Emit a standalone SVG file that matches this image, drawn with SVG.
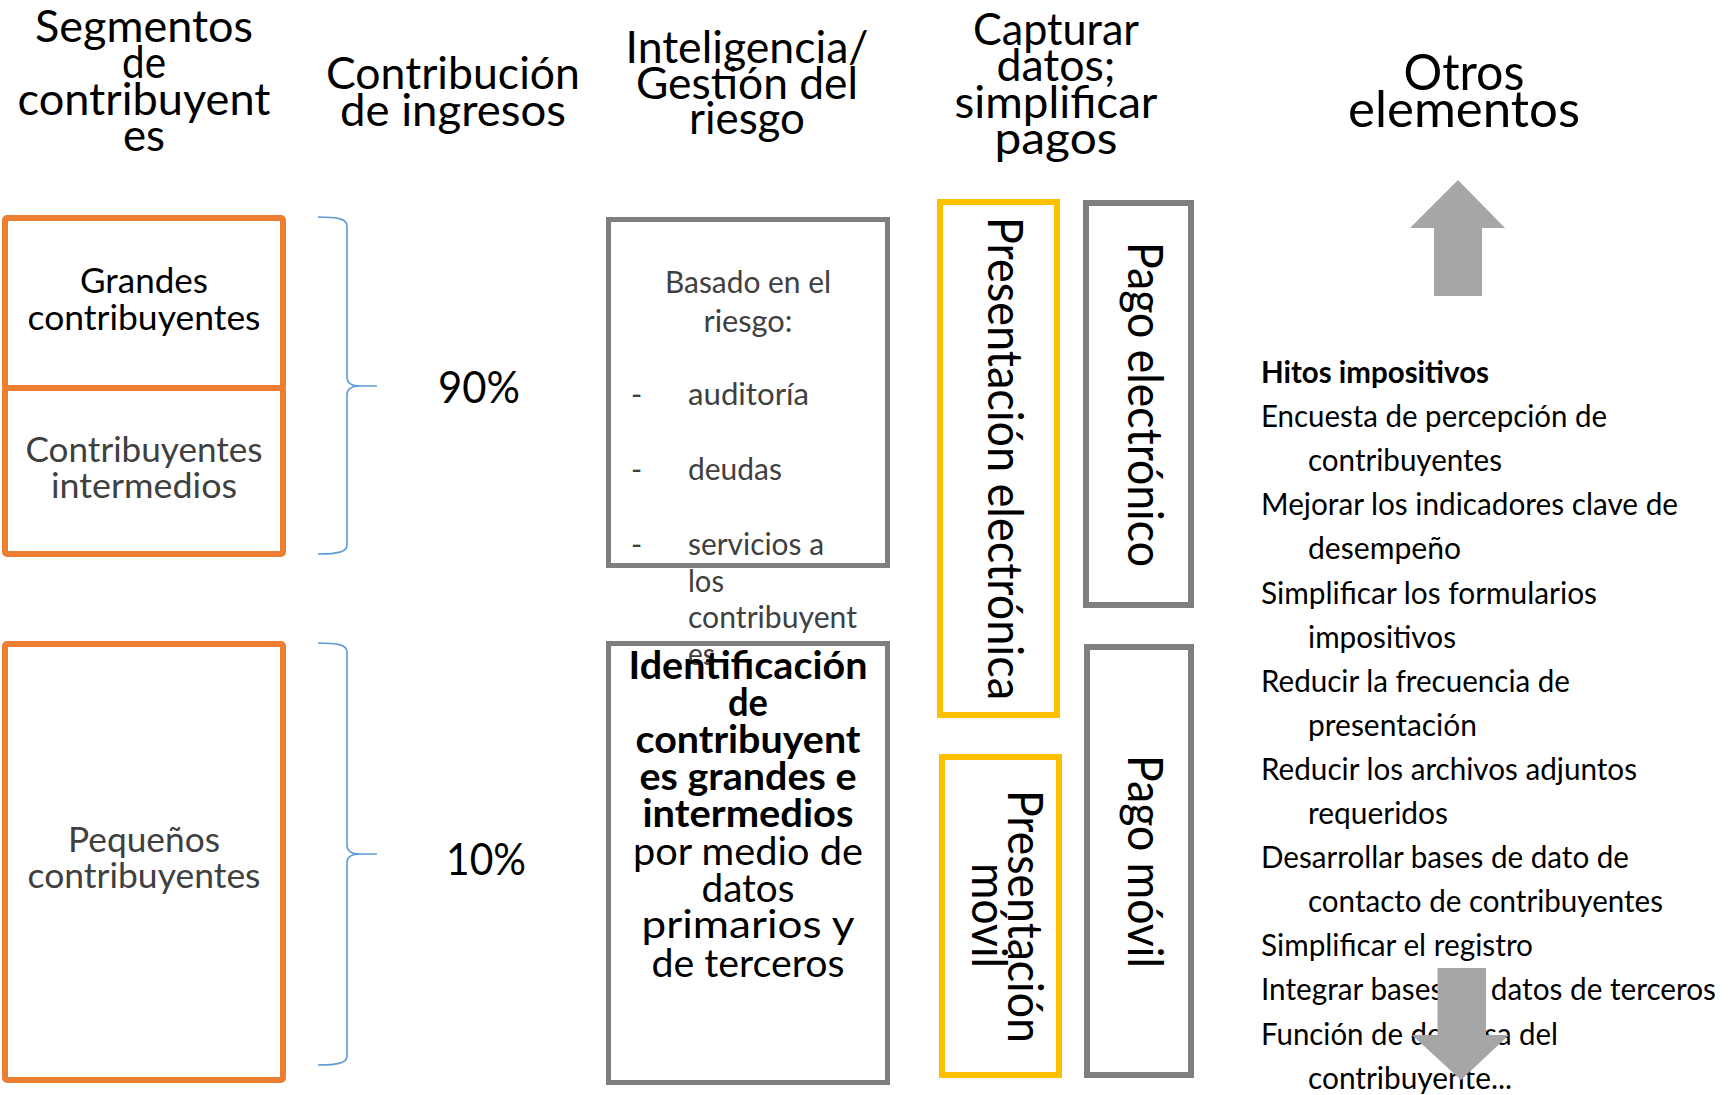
<svg xmlns="http://www.w3.org/2000/svg" width="1732" height="1095" viewBox="0 0 1732 1095">
<style>
text{font-family:Lato,"Open Sans","Liberation Sans",sans-serif;}
.hd{font-size:44px;fill:#000;text-anchor:middle;}
.hd2{font-size:50px;fill:#000;text-anchor:middle;}
.seg{font-size:35px;text-anchor:middle;}
.pct{font-size:45px;fill:#000;text-anchor:middle;}
.bas{font-size:30px;fill:#404040;}
.idt{font-size:39px;fill:#000;text-anchor:middle;}
.rot{font-size:48px;fill:#000;text-anchor:middle;}
.lst{font-size:30px;fill:#000;}
.orange{fill:#fff;stroke:#ED7D31;stroke-width:6;}
.grey{fill:#fff;stroke:#7F7F7F;stroke-width:5;}
.greyv{fill:#fff;stroke:#7F7F7F;stroke-width:6;}
.yellow{fill:#fff;stroke:#FFC000;stroke-width:6;}
.brace{fill:none;stroke:#5B9BD5;stroke-width:1.6;}
.arrow{fill:#A6A6A6;}
</style>
<rect width="1732" height="1095" fill="#fff"/>

<g id="headers">
<text class="hd" x="144" y="42" textLength="218" lengthAdjust="spacingAndGlyphs">Segmentos</text>
<text class="hd" x="144" y="78" textLength="44" lengthAdjust="spacingAndGlyphs">de</text>
<text class="hd" x="144" y="115" textLength="253" lengthAdjust="spacingAndGlyphs">contribuyent</text>
<text class="hd" x="144" y="151" textLength="42" lengthAdjust="spacingAndGlyphs">es</text>
<text class="hd" x="453" y="89" textLength="254" lengthAdjust="spacingAndGlyphs">Contribución</text>
<text class="hd" x="453" y="126" textLength="226" lengthAdjust="spacingAndGlyphs">de ingresos</text>
<text class="hd" x="747" y="63" textLength="243" lengthAdjust="spacingAndGlyphs">Inteligencia/</text>
<text class="hd" x="747" y="99" textLength="222" lengthAdjust="spacingAndGlyphs">Gestión del</text>
<text class="hd" x="747" y="134" textLength="116" lengthAdjust="spacingAndGlyphs">riesgo</text>
<text class="hd" x="1056" y="45" textLength="166" lengthAdjust="spacingAndGlyphs">Capturar</text>
<text class="hd" x="1056" y="81" textLength="119" lengthAdjust="spacingAndGlyphs">datos;</text>
<text class="hd" x="1056" y="118" textLength="203" lengthAdjust="spacingAndGlyphs">simplificar</text>
<text class="hd" x="1056" y="154" textLength="123" lengthAdjust="spacingAndGlyphs">pagos</text>
<text class="hd2" x="1464" y="90" textLength="121" lengthAdjust="spacingAndGlyphs">Otros</text>
<text class="hd2" x="1464" y="127" textLength="232" lengthAdjust="spacingAndGlyphs">elementos</text>
</g>

<g id="node-grandes">
<rect class="orange" x="5" y="218" width="278" height="170" rx="2"/>
<text class="seg" x="144" y="293" fill="#000" textLength="128" lengthAdjust="spacingAndGlyphs">Grandes</text>
<text class="seg" x="144" y="330" fill="#000" textLength="233" lengthAdjust="spacingAndGlyphs">contribuyentes</text>
</g>
<g id="node-intermedios">
<rect class="orange" x="5" y="388" width="278" height="166" rx="2"/>
<text class="seg" x="144" y="462" fill="#404040" textLength="237" lengthAdjust="spacingAndGlyphs">Contribuyentes</text>
<text class="seg" x="144" y="498" fill="#404040" textLength="186" lengthAdjust="spacingAndGlyphs">intermedios</text>
</g>
<g id="node-pequenos">
<rect class="orange" x="5" y="644" width="278" height="436" rx="2"/>
<text class="seg" x="144" y="852" fill="#404040" textLength="152" lengthAdjust="spacingAndGlyphs">Pequeños</text>
<text class="seg" x="144" y="888" fill="#404040" textLength="233" lengthAdjust="spacingAndGlyphs">contribuyentes</text>
</g>

<g id="connectors">
<path class="brace" d="M318,217 C338,217 347,219 347,226 L347,377 C347,383 351,386 360,386 L377,386 M360,386 C351,386 347,389 347,395 L347,545 C347,552 338,554 318,554"/>
<path class="brace" d="M318,643 C338,643 347,645 347,652 L347,845 C347,851 351,854 360,854 L377,854 M360,854 C351,854 347,857 347,863 L347,1056 C347,1063 338,1065 318,1065"/>
</g>

<g id="node-90">
<text class="pct" x="479" y="403" textLength="82" lengthAdjust="spacingAndGlyphs">90%</text>
</g>
<g id="node-10">
<text class="pct" x="486" y="875" textLength="80" lengthAdjust="spacingAndGlyphs">10%</text>
</g>

<g id="node-basado">
<rect class="grey" x="608.5" y="219.5" width="279" height="346"/>
<text class="bas" x="748" y="293" text-anchor="middle" textLength="166" lengthAdjust="spacingAndGlyphs">Basado en el</text>
<text class="bas" x="748" y="332" text-anchor="middle" textLength="89" lengthAdjust="spacingAndGlyphs">riesgo:</text>
<text class="bas" x="631" y="405">-</text>
<text class="bas" x="688" y="405" textLength="121" lengthAdjust="spacingAndGlyphs">auditoría</text>
<text class="bas" x="631" y="480">-</text>
<text class="bas" x="688" y="480" textLength="94" lengthAdjust="spacingAndGlyphs">deudas</text>
<text class="bas" x="631" y="555">-</text>
<text class="bas" x="688" y="555" textLength="136" lengthAdjust="spacingAndGlyphs">servicios a</text>
<text class="bas" x="688" y="592" textLength="36" lengthAdjust="spacingAndGlyphs">los</text>
<text class="bas" x="688" y="628" textLength="169" lengthAdjust="spacingAndGlyphs">contribuyent</text>
</g>

<g id="node-identificacion">
<rect class="grey" x="608.5" y="643.5" width="279" height="439"/>
<text class="bas" x="688" y="665" textLength="27" lengthAdjust="spacingAndGlyphs">es</text>
<text class="idt" x="748" y="679" font-weight="bold" textLength="239" lengthAdjust="spacingAndGlyphs">Identificación</text>
<text class="idt" x="748" y="716" font-weight="bold" textLength="40" lengthAdjust="spacingAndGlyphs">de</text>
<text class="idt" x="748" y="753" font-weight="bold" textLength="225" lengthAdjust="spacingAndGlyphs">contribuyent</text>
<text class="idt" x="748" y="790" font-weight="bold" textLength="217" lengthAdjust="spacingAndGlyphs">es grandes e</text>
<text class="idt" x="748" y="827" font-weight="bold" textLength="211" lengthAdjust="spacingAndGlyphs">intermedios</text>
<text class="idt" x="748" y="865" textLength="230" lengthAdjust="spacingAndGlyphs">por medio de</text>
<text class="idt" x="748" y="902" textLength="93" lengthAdjust="spacingAndGlyphs">datos</text>
<text class="idt" x="748" y="938" textLength="213" lengthAdjust="spacingAndGlyphs">primarios y</text>
<text class="idt" x="748" y="977" textLength="193" lengthAdjust="spacingAndGlyphs">de terceros</text>
</g>

<g id="node-presentacion-electronica">
<rect class="yellow" x="940" y="202" width="117" height="513"/>
<text class="rot" transform="translate(988,458.5) rotate(90)" x="0" y="0" textLength="483" lengthAdjust="spacingAndGlyphs">Presentación electrónica</text>
</g>
<g id="node-presentacion-movil">
<rect class="yellow" x="942" y="757" width="117" height="318"/>
<text class="rot" transform="translate(1008,916.5) rotate(90)" x="0" y="0" textLength="253" lengthAdjust="spacingAndGlyphs">Presentación</text>
<text class="rot" transform="translate(972,915.5) rotate(90)" x="0" y="0" textLength="105" lengthAdjust="spacingAndGlyphs">móvil</text>
</g>
<g id="node-pago-electronico">
<rect class="greyv" x="1086" y="203" width="105" height="402"/>
<text class="rot" transform="translate(1128,404.5) rotate(90)" x="0" y="0" textLength="325" lengthAdjust="spacingAndGlyphs">Pago electrónico</text>
</g>
<g id="node-pago-movil">
<rect class="greyv" x="1087" y="647" width="104" height="428"/>
<text class="rot" transform="translate(1128,861.5) rotate(90)" x="0" y="0" textLength="213" lengthAdjust="spacingAndGlyphs">Pago móvil</text>
</g>

<g id="node-otros">
<polygon class="arrow" points="1458,180 1505,228 1482,228 1482,296 1434,296 1434,228 1410,228"/>
<text class="lst" x="1261" y="383" font-weight="bold" textLength="228" lengthAdjust="spacingAndGlyphs">Hitos impositivos</text>
<text class="lst" x="1261" y="427.1" textLength="346" lengthAdjust="spacingAndGlyphs">Encuesta de percepción de</text>
<text class="lst" x="1308" y="471.2" textLength="194" lengthAdjust="spacingAndGlyphs">contribuyentes</text>
<text class="lst" x="1261" y="515.3" textLength="417" lengthAdjust="spacingAndGlyphs">Mejorar los indicadores clave de</text>
<text class="lst" x="1308" y="559.4" textLength="153" lengthAdjust="spacingAndGlyphs">desempeño</text>
<text class="lst" x="1261" y="603.5" textLength="336" lengthAdjust="spacingAndGlyphs">Simplificar los formularios</text>
<text class="lst" x="1308" y="647.6" textLength="148" lengthAdjust="spacingAndGlyphs">impositivos</text>
<text class="lst" x="1261" y="691.7" textLength="309" lengthAdjust="spacingAndGlyphs">Reducir la frecuencia de</text>
<text class="lst" x="1308" y="735.8" textLength="169" lengthAdjust="spacingAndGlyphs">presentación</text>
<text class="lst" x="1261" y="779.9" textLength="376" lengthAdjust="spacingAndGlyphs">Reducir los archivos adjuntos</text>
<text class="lst" x="1308" y="824" textLength="140" lengthAdjust="spacingAndGlyphs">requeridos</text>
<text class="lst" x="1261" y="868.1" textLength="368" lengthAdjust="spacingAndGlyphs">Desarrollar bases de dato de</text>
<text class="lst" x="1308" y="912.2" textLength="355" lengthAdjust="spacingAndGlyphs">contacto de contribuyentes</text>
<text class="lst" x="1261" y="956.3" textLength="272" lengthAdjust="spacingAndGlyphs">Simplificar el registro</text>
<text class="lst" x="1261" y="1000.4" textLength="455" lengthAdjust="spacingAndGlyphs">Integrar bases de datos de terceros</text>
<text class="lst" x="1261" y="1044.5" textLength="297" lengthAdjust="spacingAndGlyphs">Función de defensa del</text>
<text class="lst" x="1308" y="1088.6" textLength="204" lengthAdjust="spacingAndGlyphs">contribuyente...</text>
<polygon class="arrow" points="1437.5,968 1486,968 1486,1035 1509,1035 1461,1080 1412,1035 1437.5,1035"/>
</g>
</svg>
